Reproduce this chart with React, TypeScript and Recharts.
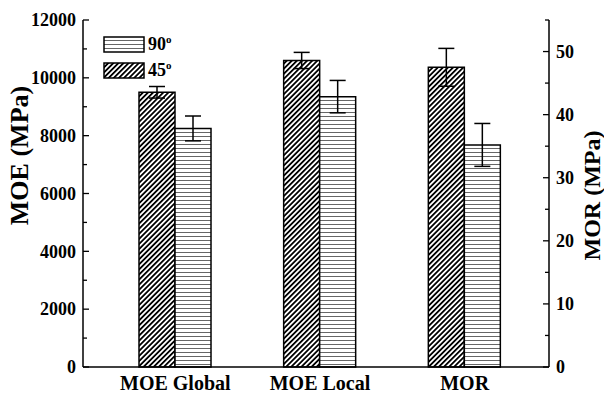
import React from 'react';
import { BarChart, Bar, XAxis, YAxis, ErrorBar, Legend, Line } from 'recharts';

const categories = ['MOE Global', 'MOE Local', 'MOR'];
// MOE in MPa (left axis), MOR in MPa (right axis)
const values45 = [9500, 10600, 47.5];
const values90 = [8250, 9350, 35.2];
const errors45 = [200, 280, 3.0];
const errors90 = [430, 560, 3.4];
const rightAxisCats = ['MOR'];

const leftTicks = [0, 1000, 2000, 3000, 4000, 5000, 6000, 7000, 8000, 9000, 10000, 11000, 12000];
const rightTicks = [0, 5, 10, 15, 20, 25, 30, 35, 40, 45, 50, 55];
const LEFT_MAX = 12000;
const RIGHT_MAX = 55;

const FONT = '"Liberation Serif", "Times New Roman", serif';

const data = categories.map((name, i) => {
  const k = rightAxisCats.includes(name) ? LEFT_MAX / RIGHT_MAX : 1;
  return {
    name,
    v45: values45[i] * k,
    v90: values90[i] * k,
    e45: errors45[i] * k,
    e90: errors90[i] * k,
  };
});

const Patterns = ({ prefix }: { prefix: string }) => (
  <defs>
    <pattern id={`${prefix}-diag`} patternUnits="userSpaceOnUse" width="3.6" height="3.6" patternTransform="rotate(45)">
      <rect width="3.6" height="3.6" fill="#fff" />
      <line x1="0.9" y1="0" x2="0.9" y2="3.6" stroke="#000" strokeWidth="1.8" />
    </pattern>
    <pattern id={`${prefix}-horiz`} patternUnits="userSpaceOnUse" width="4" height="4">
      <rect width="4" height="4" fill="#fff" />
      <line x1="0" y1="0.5" x2="4" y2="0.5" stroke="#666" strokeWidth="1" />
    </pattern>
  </defs>
);

const LeftTick = (props: any) => {
  const { x, y, payload } = props;
  const major = payload.value % 2000 === 0;
  const ax = x + 7;
  return (
    <g>
      <line x1={ax} y1={y} x2={ax + (major ? 6 : 4)} y2={y} stroke="#000" strokeWidth={1.3} />
      {major && (
        <text x={x} y={y} dy="0.35em" textAnchor="end" fontFamily={FONT} fontWeight="bold" fontSize={18} fill="#000">
          {payload.value}
        </text>
      )}
    </g>
  );
};

const RightTick = (props: any) => {
  const { x, y, payload } = props;
  const major = payload.value % 10 === 0;
  const ax = x - 7;
  return (
    <g>
      <line x1={ax} y1={y} x2={ax - (major ? 6 : 4)} y2={y} stroke="#000" strokeWidth={1.3} />
      {major && (
        <text x={x} y={y} dy="0.35em" textAnchor="start" fontFamily={FONT} fontWeight="bold" fontSize={18} fill="#000">
          {payload.value}
        </text>
      )}
    </g>
  );
};

const CustomLegend = () => {
  const items = [
    { label: '90', fill: 'url(#lg-horiz)' },
    { label: '45', fill: 'url(#lg-diag)' },
  ];
  return (
    <div style={{ fontFamily: FONT, fontWeight: 'bold', fontSize: 18, color: '#000' }}>
      {items.map((it) => (
        <div key={it.label} style={{ display: 'flex', alignItems: 'center', height: 26 }}>
          <svg width={42} height={17}>
            <Patterns prefix="lg" />
            <rect x={1} y={1} width={40} height={15} fill={it.fill} stroke="#000" strokeWidth={1.5} />
          </svg>
          <span style={{ marginLeft: 3 }}>
            {it.label}
            <sup style={{ fontSize: 11 }}>o</sup>
          </span>
        </div>
      ))}
    </div>
  );
};

export default function App() {
  return (
    <div style={{ position: 'absolute', left: 0, top: 0, background: '#fff' }}>
      <BarChart
        width={604}
        height={394}
        data={data}
        margin={{ top: 20, right: 0, bottom: 0, left: 0 }}
        barGap={0}
        barSize={36}
      >
        <Patterns prefix="ch" />
        <XAxis
          dataKey="name"
          interval={0}
          tickLine={false}
          tickSize={0}
          tickMargin={9}
          height={27}
          padding={{ left: 20, right: 12 }}
          axisLine={{ stroke: '#000', strokeWidth: 1.5 }}
          tick={{ fontFamily: FONT, fontWeight: 'bold', fontSize: 20, fill: '#000' }}
        />
        <XAxis xAxisId="top" dataKey="name" orientation="top" height={0} tick={false} tickLine={false}
          axisLine={{ stroke: '#000', strokeWidth: 1.5 }} />
        <YAxis
          yAxisId="left"
          width={83}
          domain={[0, LEFT_MAX]}
          ticks={leftTicks}
          interval={0}
          tickLine={false}
          tickSize={0}
          tickMargin={7}
          axisLine={{ stroke: '#000', strokeWidth: 1.5 }}
          tick={<LeftTick />}
          label={{ value: 'MOE (MPa)', angle: -90, position: 'insideLeft', offset: 0, dx: 19, dy: -38,
            style: { fontFamily: FONT, fontWeight: 'bold', fontSize: 26, fill: '#000', textAnchor: 'middle' } }}
        />
        <YAxis
          yAxisId="right"
          orientation="right"
          width={55}
          domain={[0, RIGHT_MAX]}
          allowDataOverflow
          ticks={rightTicks}
          interval={0}
          tickLine={false}
          tickSize={0}
          tickMargin={7}
          axisLine={{ stroke: '#000', strokeWidth: 1.5 }}
          tick={<RightTick />}
          label={{ value: 'MOR (MPa)', angle: -90, position: 'insideRight', offset: 0, dx: -13, dy: 2,
            style: { fontFamily: FONT, fontWeight: 'bold', fontSize: 24, fill: '#000', textAnchor: 'middle' } }}
        />
        <Legend
          verticalAlign="middle"
          align="center"
          layout="horizontal"
          content={<CustomLegend />}
          wrapperStyle={{ top: 31, left: 103, width: 'auto' }}
        />
        <Bar yAxisId="left" dataKey="v45" fill="url(#ch-diag)" stroke="#000" strokeWidth={1.5} isAnimationActive={false}>
          <ErrorBar dataKey="e45" width={8} stroke="#000" strokeWidth={1.5} direction="y" />
        </Bar>
        <Bar yAxisId="left" dataKey="v90" fill="url(#ch-horiz)" stroke="#000" strokeWidth={1.5} isAnimationActive={false}>
          <ErrorBar dataKey="e90" width={8} stroke="#000" strokeWidth={1.5} direction="y" />
        </Bar>
        <Line yAxisId="right" dataKey="none" stroke="none" dot={false} legendType="none" isAnimationActive={false} />
      </BarChart>
    </div>
  );
}
